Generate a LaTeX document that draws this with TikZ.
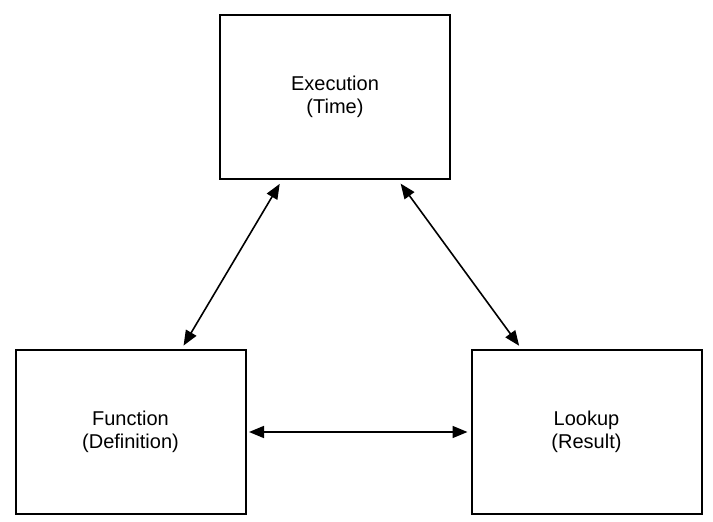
\documentclass[tikz,border=0pt]{standalone}
\usepackage{fontspec}
\setmainfont{Liberation Sans}
\usetikzlibrary{arrows.meta}
\begin{document}
\begin{tikzpicture}[x=1pt,y=-1pt,
  boxnode/.style={draw=black, line width=2pt, minimum width=230pt, minimum height=164pt,
    inner sep=0pt, align=center, font=\fontsize{20}{23.5}\selectfont},
  link/.style={line width=1.6pt, {Triangle[length=15pt,width=12pt]}-{Triangle[length=15pt,width=12pt]}}]
\useasboundingbox (0,0) rectangle (713,522);
\node[boxnode] (top) at (335,97) {Execution\\(Time)};
\node[boxnode] (left) at (130.5,432) {Function\\(Definition)};
\node[boxnode] (right) at (586.5,432) {Lookup\\(Result)};
\draw[link, shorten <=4.5pt, shorten >=4pt] ([xshift=63pt]top.south west) -- ([xshift=167pt]left.north west);
\draw[link, shorten <=4.5pt, shorten >=4pt] ([xshift=179pt]top.south west) -- ([xshift=51pt]right.north west);
\draw[link, shorten <=2.5pt, shorten >=3pt] (left.east) -- (right.west);
\end{tikzpicture}
\end{document}
